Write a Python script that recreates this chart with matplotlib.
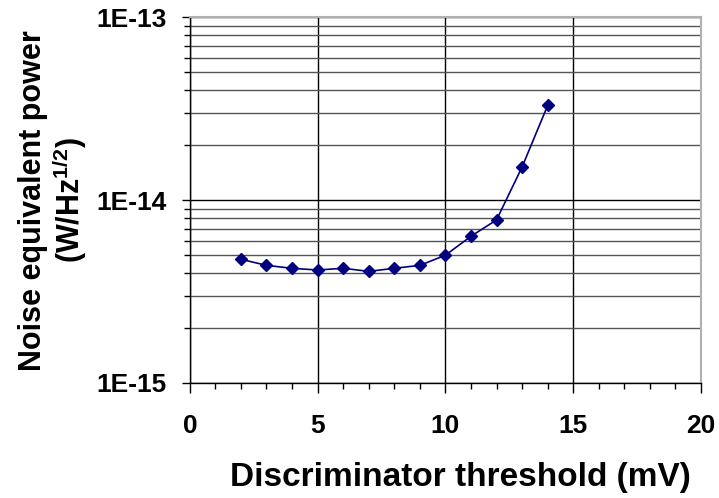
import numpy as np
import matplotlib.pyplot as plt
from matplotlib.ticker import LogLocator, FixedLocator, MultipleLocator, NullFormatter

plt.rcParams['font.family'] = ['Liberation Sans', 'DejaVu Sans']
plt.rcParams['font.weight'] = 'bold'
plt.rcParams['mathtext.fontset'] = 'custom'
plt.rcParams['mathtext.rm'] = 'Liberation Sans:bold'
plt.rcParams['mathtext.bf'] = 'Liberation Sans:bold'

# discriminator threshold (mV) vs noise equivalent power (W/Hz^1/2)
threshold_mv = [2, 3, 4, 5, 6, 7, 8, 9, 10, 11, 12, 13, 14]
nep = [4.75e-15, 4.40e-15, 4.24e-15, 4.15e-15, 4.24e-15, 4.08e-15, 4.24e-15,
       4.40e-15, 5.0e-15, 6.35e-15, 7.8e-15, 1.52e-14, 3.3e-14]

y_ticks = [1e-15, 1e-14, 1e-13]
y_tick_labels = ['1E-15', '1E-14', '1E-13']
x_ticks = [0, 5, 10, 15, 20]

fig = plt.figure(figsize=(7.19, 4.98), dpi=100)
ax = fig.add_axes([0.264, 0.231, 0.711, 0.734])

ax.plot(threshold_mv, nep, color='#000080', linewidth=1.2,
        marker='D', markersize=6.5, markerfacecolor='#000080',
        markeredgecolor='#000080', zorder=3)

ax.set_yscale('log')
ax.set_ylim(1e-15, 1e-13)
ax.set_xlim(0, 20)

ax.yaxis.set_major_locator(FixedLocator(y_ticks))
ax.set_yticklabels(y_tick_labels)
ax.yaxis.set_minor_locator(LogLocator(base=10, subs=np.arange(2, 10)))
ax.yaxis.set_minor_formatter(NullFormatter())
ax.set_xticks(x_ticks)
ax.xaxis.set_minor_locator(MultipleLocator(1))

ax.grid(True, which='major', axis='both', color='black', linewidth=1.0)
ax.grid(True, which='minor', axis='y', color='#555555', linewidth=1.0)
ax.set_axisbelow(True)

ax.tick_params(axis='y', which='major', direction='out', length=5.5,
               width=1, labelsize=19, pad=11, color='black')
ax.tick_params(axis='y', which='minor', direction='out', length=4,
               width=1, color='black')
ax.tick_params(axis='x', which='major', direction='out', length=7,
               width=1, labelsize=19, pad=15.5, color='black')
ax.tick_params(axis='x', which='minor', direction='out', length=4.5,
               width=1, color='black')

for side in ['left', 'bottom']:
    ax.spines[side].set_color('black')
    ax.spines[side].set_linewidth(1.0)
for side in ['top', 'right']:
    ax.spines[side].set_color('#b0b0b0')
    ax.spines[side].set_linewidth(1.5)

ax.set_xlabel('Discriminator threshold (mV)', fontsize=24, fontweight='bold',
              va='top')
ax.xaxis.set_label_coords(0.53, -0.216)
ax.set_ylabel('Noise equivalent power\n(W/Hz$^{1/2}$)', fontsize=22,
              fontweight='bold', linespacing=1.05)
ax.yaxis.set_label_coords(-0.1976, 0.5)

fig.savefig('out.png', dpi=100, facecolor='white')
